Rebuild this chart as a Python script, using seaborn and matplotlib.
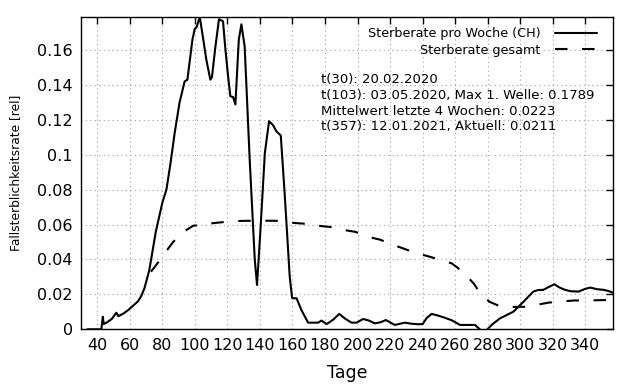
import numpy as np
import pandas as pd
import matplotlib
matplotlib.use("Agg")
import matplotlib.pyplot as plt
import seaborn as sns

# ---- data ----
week_t = [34, 42.5, 43.4, 44, 46, 49, 51.7, 53, 56, 59, 62, 65, 67, 69, 72, 76, 80,
          82.5, 85, 87.6, 90.6, 93.7, 95.4, 98.5, 99.9, 101, 103, 105, 107, 109.5,
          110.5, 112.5, 114.8, 117.3, 118.5, 120.4, 121.8, 123.5, 124.9, 127, 128.6,
          130.6, 133.7, 136.8, 138.2, 140.5, 143, 145.6, 148, 150.1, 152.8, 155.3,
          158.3, 159.8, 162.5, 165.5, 169.6, 175.8, 177.8, 181, 185, 188.7, 192.5,
          196.3, 199.4, 203.4, 207, 210.6, 214, 217.4, 222.9, 229, 233, 237.3, 240,
          242.5, 245.5, 249, 252.7, 257.8, 263, 268, 272.2, 275.7, 278, 279.8, 283,
          287.6, 295.8, 302, 308, 311, 314.2, 317, 321, 324, 327.5, 331, 335.8, 340,
          343, 347, 351.2, 354, 357]
week_rate = [0, 0, 0.0072, 0.003, 0.004, 0.006, 0.0095, 0.0075, 0.009, 0.011, 0.0135,
             0.016, 0.019, 0.0235, 0.034, 0.056, 0.0725, 0.080, 0.095, 0.1126, 0.130,
             0.142, 0.143, 0.166, 0.172, 0.173, 0.1789, 0.167, 0.1546, 0.143, 0.1445,
             0.161, 0.1776, 0.1765, 0.163, 0.145, 0.1335, 0.133, 0.1288, 0.166, 0.1747,
             0.162, 0.097, 0.040, 0.0254, 0.060, 0.101, 0.1192, 0.117, 0.1134, 0.111,
             0.076, 0.030, 0.0178, 0.0178, 0.011, 0.0038, 0.0038, 0.005, 0.003, 0.0055,
             0.0088, 0.006, 0.0038, 0.0038, 0.0059, 0.005, 0.0034, 0.004, 0.0053,
             0.0025, 0.0038, 0.0032, 0.0029, 0.003, 0.0065, 0.0088, 0.008, 0.0069,
             0.0052, 0.0025, 0.0025, 0.0025, -0.0005, -0.003, 0.0, 0.003, 0.0063,
             0.0101, 0.0158, 0.0216, 0.0225, 0.0226, 0.024, 0.0258, 0.024, 0.0226,
             0.0218, 0.0216, 0.0232, 0.0239, 0.023, 0.0226, 0.022, 0.021]

total_t = [73, 78, 82.6, 86.6, 92.7, 95, 98.9, 106, 113, 122, 129, 138, 144, 153, 160,
           170, 177, 184.3, 190.9, 198.8, 205, 214, 220.6, 229, 235, 243.5, 249.7,
           257.8, 261.3, 266, 271.6, 275.3, 281, 287, 296, 302.5, 310.6, 317.5, 326.3,
           333, 341.6, 348.8, 357]
total_rate = [0.033, 0.039, 0.045, 0.050, 0.0555, 0.057, 0.0593, 0.0602, 0.061, 0.0618,
              0.0621, 0.0622, 0.0622, 0.0621, 0.061, 0.0603, 0.0592, 0.0585, 0.057,
              0.0558, 0.0533, 0.0513, 0.0488, 0.0460, 0.0439, 0.0418, 0.0401, 0.0378,
              0.0354, 0.0317, 0.026, 0.0207, 0.0158, 0.0134, 0.0128, 0.0129, 0.0141,
              0.0153, 0.016, 0.0165, 0.0165, 0.0167, 0.0168]

x_ticks = list(range(40, 341, 20))
y_ticks = [0, 0.02, 0.04, 0.06, 0.08, 0.1, 0.12, 0.14, 0.16]
y_tick_labels = ["0", "0.02", "0.04", "0.06", "0.08", "0.1", "0.12", "0.14", "0.16"]

label_week = "Sterberate pro Woche (CH)"
label_total = "Sterberate gesamt"
info_lines = ["t(30): 20.02.2020",
              "t(103): 03.05.2020, Max 1. Welle: 0.1789",
              "Mittelwert letzte 4 Wochen: 0.0223",
              "t(357): 12.01.2021, Aktuell: 0.0211"]

# ---- plot ----
sns.set_style("white")
plt.rcParams['font.family'] = ['DejaVu Sans']
plt.rcParams.update({"text.color": "black", "axes.labelcolor": "black",
                     "xtick.color": "black", "ytick.color": "black"})

LW = 1.5
DASH = (0, (6.0, 7.0))

fig = plt.figure(figsize=(6.4, 3.84), dpi=100)
ax = fig.add_axes([81/640, 1-329.3/384, (613-81)/640, (329.3-17)/384])

df_w = pd.DataFrame({"t": week_t, "rate": week_rate})
df_t = pd.DataFrame({"t": total_t, "rate": total_rate})
sns.lineplot(data=df_w, x="t", y="rate", ax=ax, color="black", lw=LW,
             label=label_week, estimator=None, sort=False)
sns.lineplot(data=df_t, x="t", y="rate", ax=ax, color="black", lw=LW,
             label=label_total, estimator=None, sort=False)
ax.lines[-1].set_linestyle(DASH)

ax.set_xlim(30, 357)
ax.set_ylim(0, 0.1789)
ax.set_xticks(x_ticks)
ax.set_xticklabels([str(v) for v in x_ticks], fontsize=11.5, color="black")
ax.set_yticks(y_ticks)
ax.set_yticklabels(y_tick_labels, fontsize=11.5, color="black")
ax.tick_params(direction="in", length=5, width=1, top=True, right=True,
               labeltop=False, labelright=False, pad=6, color="black",
               labelcolor="black")
ax.grid(True, color="#a0a0a0", linestyle=(0, (1, 3)), lw=0.8)
for s in ax.spines.values():
    s.set_visible(True)
    s.set_color("black")
    s.set_linewidth(1)

ax.set_xlabel("Tage", fontsize=12.5, color="black")
ax.set_ylabel("Fallsterblichkeitsrate [rel]", fontsize=8.8, color="black")
ax.xaxis.set_label_coords(0.5, -0.11)
ax.yaxis.set_label_coords(-0.11, 0.5)

leg = ax.legend(loc="upper right", bbox_to_anchor=(1 - 11/532, 1 - 5/312),
                frameon=False, markerfirst=False, fontsize=9.2, handlelength=3.3,
                labelspacing=0.3, handletextpad=1.1, borderaxespad=0)
for txt in leg.get_texts():
    txt.set_color("black")
for h in leg.get_lines():
    h.set_linewidth(LW)
leg.get_lines()[1].set_linestyle(DASH)

ax.text((321-81)/532, (329.3-73)/312.3, "\n".join(info_lines), transform=ax.transAxes,
        fontsize=9.5, va="top", ha="left", linespacing=1.28, color="black")

fig.savefig("out.png", dpi=100)
